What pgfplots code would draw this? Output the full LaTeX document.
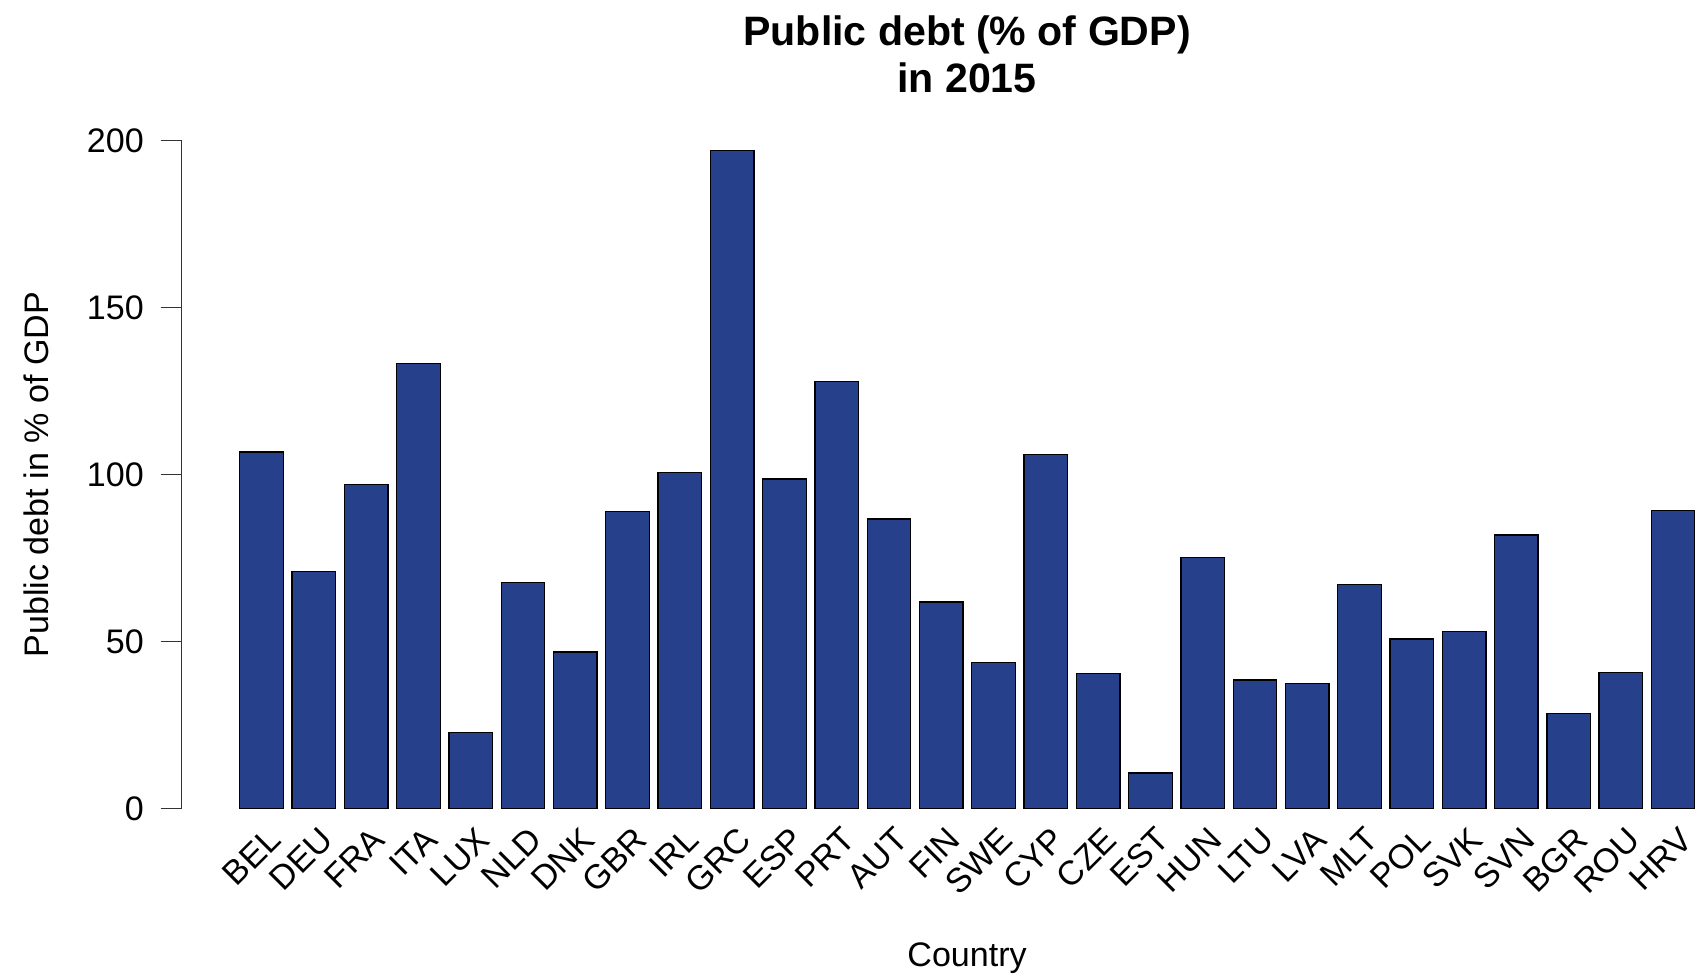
\documentclass[border=0pt]{standalone}
\usepackage{pgfplots}
\pgfplotsset{compat=1.18}
\usepackage{fontspec}
\setmainfont{Liberation Sans}

\definecolor{barblue}{RGB}{39,64,139}

\begin{document}
\begin{tikzpicture}
  \begin{axis}[
    scale only axis,
    width=560pt,
    height=247.2pt,
    xmin=-1.136, xmax=33.6,
    ymin=0, ymax=200,
    axis lines=left,
    axis line style={-, draw=black!80, line width=0.5pt},
    x axis line style={draw=none},
    xtick style={draw=none},
    ytick={0,50,100,150,200},
    ytick style={draw=black!80, line width=0.5pt},
    tick align=outside,
    major tick length=7.8pt,
    xtick=data,
    xticklabels={BEL,DEU,FRA,ITA,LUX,NLD,DNK,GBR,IRL,GRC,ESP,PRT,AUT,FIN,SWE,CYP,CZE,EST,HUN,LTU,LVA,MLT,POL,SVK,SVN,BGR,ROU,HRV},
    xticklabel style={anchor=east, inner sep=0pt, xshift=4.8pt, yshift=-1.4pt, rotate=45},
    yticklabel style={anchor=east, inner sep=0pt, xshift=-6pt},
    tick label style={font=\fontsize{12.6}{15}\selectfont},
    /pgf/number format/assume math mode=true,
    ybar, bar width=1,
  ]
    % values, bars at 0.7 + 1.2*i
    \addplot[fill=barblue, draw=black, line width=0.5pt] coordinates {
      (0.7,106.8) (1.9,70.9) (3.1,97.1) (4.3,133.3) (5.5,22.7)
      (6.7,67.6) (7.9,46.9) (9.1,89.0) (10.3,100.6) (11.5,197.1)
      (12.7,98.7) (13.9,127.8) (15.1,86.7) (16.3,61.8) (17.5,43.7)
      (18.7,106.1) (19.9,40.5) (21.1,10.7) (22.3,75.1) (23.5,38.5)
      (24.7,37.5) (25.9,67.0) (27.1,50.8) (28.3,53.1) (29.5,81.9)
      (30.7,28.5) (31.9,40.8) (33.1,89.3)
    };
    \coordinate (bl) at (rel axis cs:0,0);
    \coordinate (tr) at (rel axis cs:1,1);
    \coordinate (tt) at (rel axis cs:0.519,1);
    \coordinate (bb) at (rel axis cs:0.519,0);
    \coordinate (ll) at (rel axis cs:0,0.5);
  \end{axis}
  \node[anchor=base, font=\bfseries\fontsize{15.2}{17.6}\selectfont] at ([yshift=35.2pt]tt) {Public debt (\% of GDP)};
  \node[anchor=base, font=\bfseries\fontsize{15.2}{17.6}\selectfont] at ([yshift=17.6pt]tt) {in 2015};
  \node[anchor=base, font=\fontsize{12.6}{15}\selectfont] at ([yshift=-58.4pt]bb) {Country};
  \node[anchor=base, rotate=90, font=\fontsize{12.6}{15}\selectfont] at ([xshift=-49.4pt]ll) {Public debt in \% of GDP};
  \pgfresetboundingbox
  \path ([xshift=-67.2pt,yshift=-62pt]bl) rectangle ([yshift=52pt]tr);
\end{tikzpicture}
\end{document}
